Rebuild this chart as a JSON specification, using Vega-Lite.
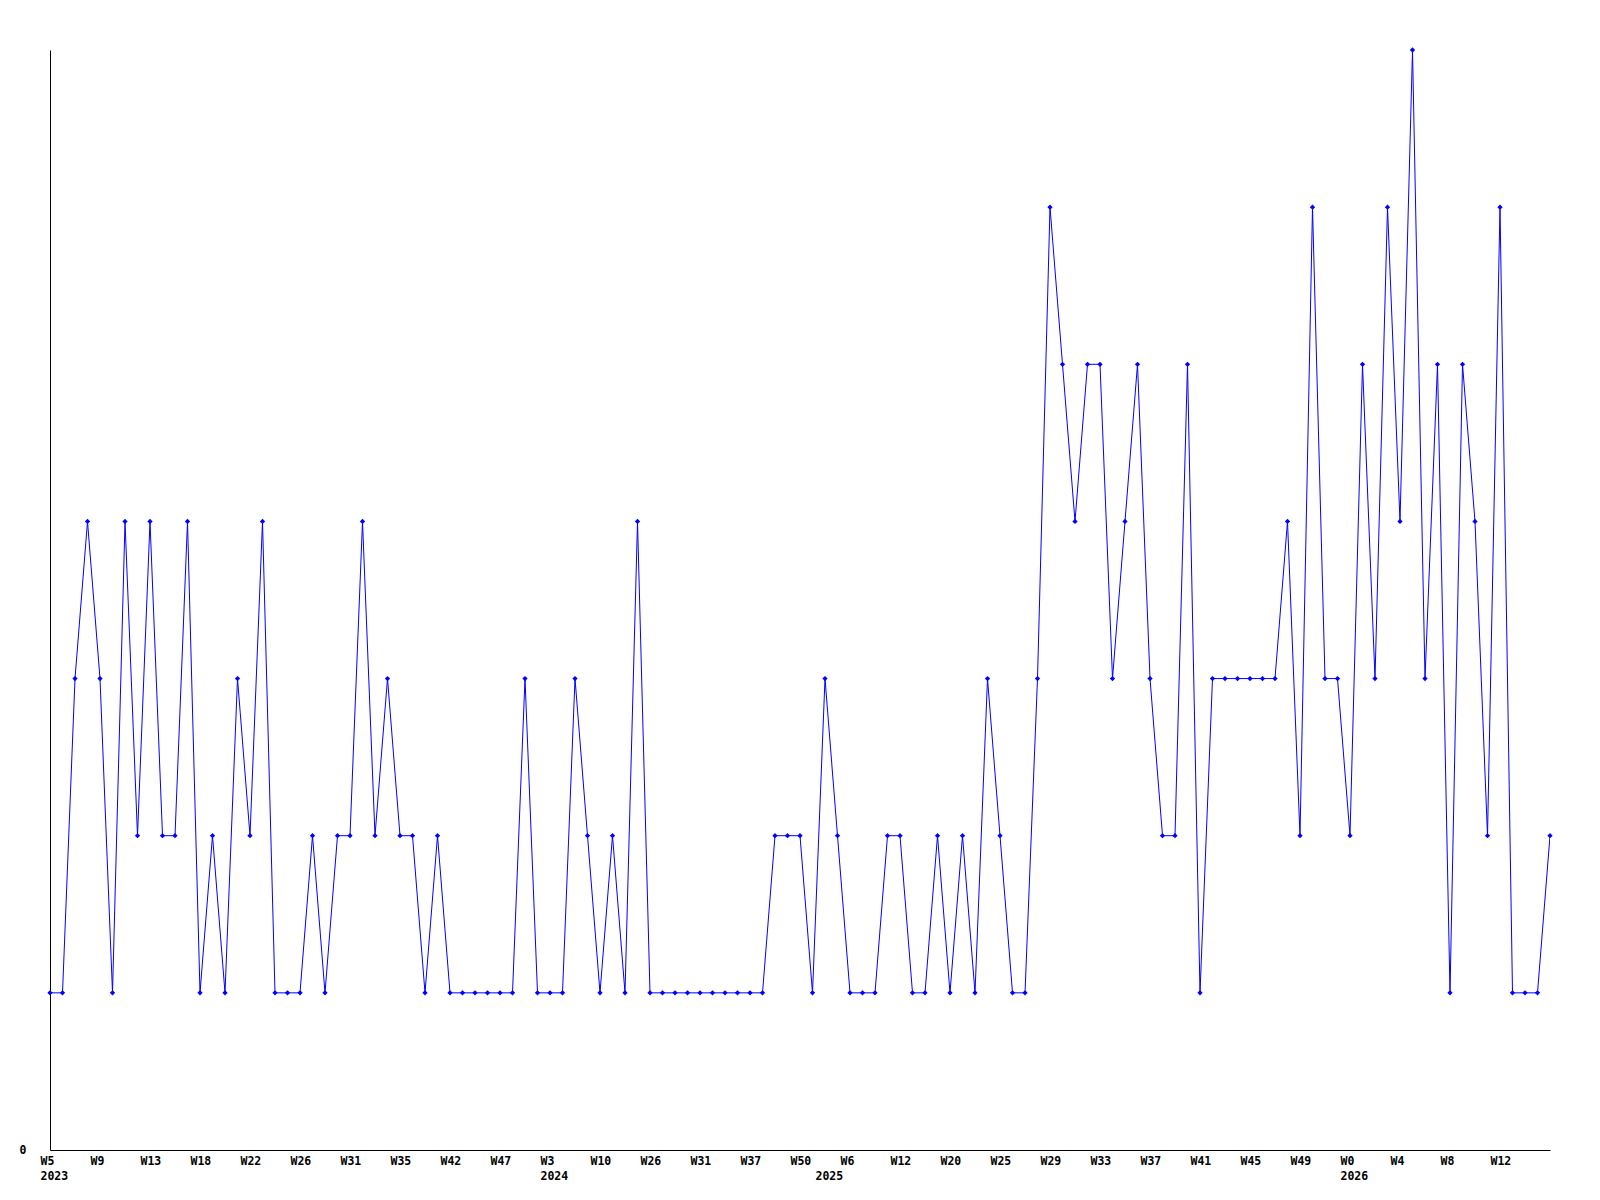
{
  "$schema": "https://vega.github.io/schema/vega-lite/v6.json",
  "width": 1500,
  "height": 1100,
  "autosize": {"type": "none"},
  "padding": {"left": 50, "top": 50, "right": 50, "bottom": 50},
  "background": "#ffffff",
  "config": {"view": {"stroke": null}},
  "data": {"values": [
    {"i":0,"v":1},{"i":1,"v":1},{"i":2,"v":3},{"i":3,"v":4},{"i":4,"v":3},{"i":5,"v":1},{"i":6,"v":4},{"i":7,"v":2},{"i":8,"v":4},{"i":9,"v":2},
    {"i":10,"v":2},{"i":11,"v":4},{"i":12,"v":1},{"i":13,"v":2},{"i":14,"v":1},{"i":15,"v":3},{"i":16,"v":2},{"i":17,"v":4},{"i":18,"v":1},{"i":19,"v":1},
    {"i":20,"v":1},{"i":21,"v":2},{"i":22,"v":1},{"i":23,"v":2},{"i":24,"v":2},{"i":25,"v":4},{"i":26,"v":2},{"i":27,"v":3},{"i":28,"v":2},{"i":29,"v":2},
    {"i":30,"v":1},{"i":31,"v":2},{"i":32,"v":1},{"i":33,"v":1},{"i":34,"v":1},{"i":35,"v":1},{"i":36,"v":1},{"i":37,"v":1},{"i":38,"v":3},{"i":39,"v":1},
    {"i":40,"v":1},{"i":41,"v":1},{"i":42,"v":3},{"i":43,"v":2},{"i":44,"v":1},{"i":45,"v":2},{"i":46,"v":1},{"i":47,"v":4},{"i":48,"v":1},{"i":49,"v":1},
    {"i":50,"v":1},{"i":51,"v":1},{"i":52,"v":1},{"i":53,"v":1},{"i":54,"v":1},{"i":55,"v":1},{"i":56,"v":1},{"i":57,"v":1},{"i":58,"v":2},{"i":59,"v":2},
    {"i":60,"v":2},{"i":61,"v":1},{"i":62,"v":3},{"i":63,"v":2},{"i":64,"v":1},{"i":65,"v":1},{"i":66,"v":1},{"i":67,"v":2},{"i":68,"v":2},{"i":69,"v":1},
    {"i":70,"v":1},{"i":71,"v":2},{"i":72,"v":1},{"i":73,"v":2},{"i":74,"v":1},{"i":75,"v":3},{"i":76,"v":2},{"i":77,"v":1},{"i":78,"v":1},{"i":79,"v":3},
    {"i":80,"v":6},{"i":81,"v":5},{"i":82,"v":4},{"i":83,"v":5},{"i":84,"v":5},{"i":85,"v":3},{"i":86,"v":4},{"i":87,"v":5},{"i":88,"v":3},{"i":89,"v":2},
    {"i":90,"v":2},{"i":91,"v":5},{"i":92,"v":1},{"i":93,"v":3},{"i":94,"v":3},{"i":95,"v":3},{"i":96,"v":3},{"i":97,"v":3},{"i":98,"v":3},{"i":99,"v":4},
    {"i":100,"v":2},{"i":101,"v":6},{"i":102,"v":3},{"i":103,"v":3},{"i":104,"v":2},{"i":105,"v":5},{"i":106,"v":3},{"i":107,"v":6},{"i":108,"v":4},{"i":109,"v":7},
    {"i":110,"v":3},{"i":111,"v":5},{"i":112,"v":1},{"i":113,"v":5},{"i":114,"v":4},{"i":115,"v":2},{"i":116,"v":6},{"i":117,"v":1},{"i":118,"v":1},{"i":119,"v":1},
    {"i":120,"v":2}
  ]},
  "encoding": {
    "x": {
      "field": "i", "type": "quantitative",
      "scale": {"domain": [0, 120], "nice": false, "zero": false},
      "axis": {
        "title": null, "grid": false, "ticks": false,
        "domainColor": "#000000", "domainWidth": 1,
        "values": [0,4,8,12,16,20,24,28,32,36,40,44,48,52,56,60,62,64,68,72,76,80,84,88,92,96,100,104,108,112,116],
        "labelExpr": "datum.value == 62 ? [' ', '2025'] : datum.value == 0 ? ['W5', '2023'] : datum.value == 40 ? ['W3', '2024'] : datum.value == 104 ? ['W0', '2026'] : ['W5','W9','W13','W18','W22','W26','W31','W35','W42','W47','W3','W10','W26','W31','W37','W50','W6','W12','W20','W25','W29','W33','W37','W41','W45','W49','W0','W4','W8','W12'][datum.value / 4]",
        "labelAlign": "left", "labelOffset": -10, "labelBaseline": "top",
        "labelPadding": 5, "labelLineHeight": 15,
        "labelFont": "DejaVu Sans Mono", "labelFontSize": 11.5, "labelFontWeight": "bold",
        "labelColor": "#000000", "labelOverlap": false, "labelFlush": false
      }
    },
    "y": {
      "field": "v", "type": "quantitative",
      "scale": {"domain": [0, 7], "nice": false},
      "axis": {
        "title": null, "grid": false, "ticks": false, "values": [0],
        "domainColor": "#000000", "domainWidth": 1,
        "labelPadding": 24, "labelFont": "DejaVu Sans Mono", "labelFontSize": 11.5,
        "labelFontWeight": "bold", "labelColor": "#000000"
      }
    }
  },
  "layer": [
    {"mark": {"type": "line", "color": "#0000ff", "strokeWidth": 1, "clip": true}},
    {"mark": {"type": "point", "shape": "diamond", "filled": true, "size": 28, "color": "#0000ff", "opacity": 1}}
  ]
}
